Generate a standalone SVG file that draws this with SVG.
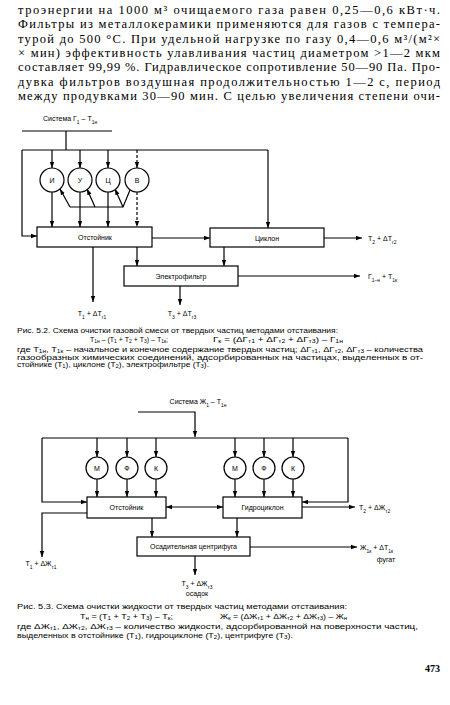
<svg xmlns="http://www.w3.org/2000/svg" width="450" height="705" viewBox="0 0 450 705">
<style>
.ln{stroke:#000;stroke-width:1.2;fill:none}
.ar{marker-end:url(#a)}
.da{stroke-dasharray:3,2}
.box{fill:#fff;stroke:#000;stroke-width:1.2}
.cir{fill:#fff;stroke:#000;stroke-width:1.2}
.t{font-family:"Liberation Sans",Arial,sans-serif;font-size:7px;fill:#000}
.tc{text-anchor:middle}
.body{font-family:"Liberation Serif","Times New Roman",serif;font-size:12.5px;fill:#000}
.cap{font-family:"Liberation Sans",Arial,sans-serif;font-size:7px;fill:#000}
.s{font-size:70%;baseline-shift:sub}
.cs{font-size:70%;baseline-shift:-1.4px}
.p{font-family:"Liberation Serif",serif;font-size:10px;font-weight:bold;fill:#000}
</style>
<defs>
<marker id="a" markerWidth="6" markerHeight="6" refX="6" refY="3" orient="auto" markerUnits="userSpaceOnUse"><path d="M0,0.8 L6,3 L0,5.2z" fill="#000"/></marker>
<marker id="b" markerWidth="6" markerHeight="6" refX="0" refY="3" orient="auto" markerUnits="userSpaceOnUse"><path d="M6,0.8 L0,3 L6,5.2z" fill="#000"/></marker>
</defs>
<rect width="450" height="705" fill="#fff"/>

<g id="paragraph" class="body">
<text x="18" y="14" textLength="422" lengthAdjust="spacing">троэнергии на 1000 м³ очищаемого газа равен 0,25—0,6 кВт·ч.</text>
<text x="18" y="28.3" textLength="422" lengthAdjust="spacing">Фильтры из металлокерамики применяются для газов с темпера-</text>
<text x="18" y="42.6" textLength="422" lengthAdjust="spacing">турой до 500 °С. При удельной нагрузке по газу 0,4—0,6 м³/(м²×</text>
<text x="18" y="56.9" textLength="422" lengthAdjust="spacing">× мин) эффективность улавливания частиц диаметром &gt;1—2 мкм</text>
<text x="18" y="71.2" textLength="422" lengthAdjust="spacing">составляет 99,99 %. Гидравлическое сопротивление 50—90 Па. Про-</text>
<text x="18" y="85.5" textLength="422" lengthAdjust="spacing">дувка фильтров воздушная продолжительностью 1—2 с, период</text>
<text x="18" y="99.8" textLength="422" lengthAdjust="spacing">между продувками 30—90 мин. С целью увеличения степени очи-</text>
</g>

<!-- Figure 5.2 -->
<g id="fig1-connectors">
<path class="ln" d="M22,131 H112 M66,131 V150"/>
<path class="ln" d="M22,150 H268"/>
<path class="ln ar" d="M268,150 V228"/>
<path class="ln ar" d="M22,150 V236 H37"/>
<path class="ln ar" d="M52,150 V168"/>
<path class="ln ar" d="M80,150 V168"/>
<path class="ln ar" d="M108,150 V168"/>
<path class="ln ar da" d="M137,150 V168"/>
<path class="ln ar" d="M52,192 V227"/>
<path class="ln ar" d="M80,192 V227"/>
<path class="ln ar" d="M108,192 V227"/>
<path class="ln ar da" d="M137,192 V227"/>
<path class="ln" d="M70,207 H123 L130,190"/>
<path class="ln ar" d="M70,207 L60,189"/>
<path class="ln ar" d="M95,207 L87,189"/>
<path class="ln ar" d="M123,207 L115,189"/>
<path class="ln ar" d="M152,238 H210"/>
<path class="ln ar" d="M324,238 H362"/>
<path class="ln ar" d="M93,247 V302"/>
<path class="ln ar" d="M137,247 V266"/>
<path class="ln ar" d="M224,247 V266"/>
<path class="ln ar" d="M238,276 H360"/>
<path class="ln ar" d="M180,286 V305"/>
</g>
<g id="fig1-title"><text class="t tc" x="70" y="121">Система Г<tspan class="s">1</tspan> – Т<tspan class="s">1н</tspan></text></g>
<g id="c1"><circle class="cir" cx="52" cy="180" r="12"/><text class="t tc" x="52" y="182.5">И</text></g>
<g id="c2"><circle class="cir" cx="80" cy="180" r="12"/><text class="t tc" x="80" y="182.5">У</text></g>
<g id="c3"><circle class="cir" cx="108" cy="180" r="12"/><text class="t tc" x="108" y="182.5">Ц</text></g>
<g id="c4"><circle class="cir" cx="137" cy="180" r="12"/><text class="t tc" x="137" y="182.5">В</text></g>
<g id="settler1"><rect class="box" x="37" y="227" width="115" height="20"/><text class="t tc" x="95" y="240">Отстойник</text></g>
<g id="cyclone"><rect class="box" x="210" y="228" width="114" height="19"/><text class="t tc" x="267" y="240.5">Циклон</text></g>
<g id="efilter"><rect class="box" x="124" y="266" width="114" height="20"/><text class="t tc" x="181" y="279">Электрофильтр</text></g>
<g id="out1"><text class="t tc" x="92" y="316">Т<tspan class="s">1</tspan> + ΔТ<tspan class="s">г1</tspan></text></g>
<g id="out3"><text class="t tc" x="182" y="316">Т<tspan class="s">3</tspan> + ΔТ<tspan class="s">г3</tspan></text></g>
<g id="out2"><text class="t" x="368" y="241">Т<tspan class="s">2</tspan> + ΔТ<tspan class="s">г2</tspan></text></g>
<g id="outg"><text class="t" x="368" y="279">Г<tspan class="s">1–н</tspan> + Т<tspan class="s">1к</tspan></text></g>

<g id="caption52" class="cap">
<text x="17" y="333" textLength="321" lengthAdjust="spacingAndGlyphs">Рис. 5.2. Схема очистки газовой смеси от твердых частиц методами отстаивания:</text>
<text x="90" y="342" textLength="78" lengthAdjust="spacingAndGlyphs">Т<tspan class="cs">1н</tspan> – (Т<tspan class="cs">1</tspan> + Т<tspan class="cs">2</tspan> + Т<tspan class="cs">3</tspan>) – Т<tspan class="cs">1к</tspan>;</text>
<text x="213" y="342" textLength="130" lengthAdjust="spacingAndGlyphs">Г<tspan class="cs">к</tspan> = (ΔГ<tspan class="cs">т1</tspan> + ΔГ<tspan class="cs">т2</tspan> + ΔГ<tspan class="cs">т3</tspan>) – Г<tspan class="cs">1н</tspan></text>
<text x="17" y="352" textLength="406" lengthAdjust="spacingAndGlyphs">где Т<tspan class="cs">1н</tspan>, Т<tspan class="cs">1к</tspan> – начальное и конечное содержание твердых частиц; ΔГ<tspan class="cs">т1</tspan>, ΔГ<tspan class="cs">т2</tspan>, ΔГ<tspan class="cs">т3</tspan> – количества</text>
<text x="17" y="359.5" textLength="406" lengthAdjust="spacingAndGlyphs">газообразных химических соединений, адсорбированных на частицах, выделенных в от-</text>
<text x="17" y="367" textLength="192" lengthAdjust="spacingAndGlyphs">стойнике (Т<tspan class="cs">1</tspan>), циклоне (Т<tspan class="cs">2</tspan>), электрофильтре (Т<tspan class="cs">3</tspan>).</text>
</g>

<!-- Figure 5.3 -->
<g id="fig2-connectors">
<path class="ln ar" d="M138,412 H195 V437"/>
<path class="ln" d="M42,438 H348"/>
<path class="ln ar" d="M42,438 V502 H87"/>
<path class="ln ar" d="M348,438 V502 H302"/>
<path class="ln ar" d="M97,438 V457"/>
<path class="ln ar" d="M127,438 V457"/>
<path class="ln ar" d="M156,438 V457"/>
<path class="ln ar" d="M235,438 V457"/>
<path class="ln ar" d="M264,438 V457"/>
<path class="ln ar" d="M293,438 V457"/>
<path class="ln ar" d="M97,479 V497"/>
<path class="ln ar" d="M127,479 V497"/>
<path class="ln ar" d="M156,479 V497"/>
<path class="ln ar" d="M235,479 V497"/>
<path class="ln ar" d="M264,479 V497"/>
<path class="ln ar" d="M293,479 V497"/>
<path class="ln ar" d="M166,507 H223" marker-start="url(#b)"/>
<path class="ln ar" d="M302,507 H355"/>
<path class="ln ar" d="M87,513 H42 V557"/>
<path class="ln ar" d="M152,518 V537"/>
<path class="ln ar" d="M237,518 V537"/>
<path class="ln ar" d="M250,547 H357"/>
<path class="ln ar" d="M195,556 V575"/>
</g>
<g id="fig2-title"><text class="t tc" x="198" y="404">Система Ж<tspan class="s">1</tspan> – Т<tspan class="s">1н</tspan></text></g>
<g id="m1"><circle class="cir" cx="97" cy="468" r="11"/><text class="t tc" x="97" y="470.5">М</text></g>
<g id="f1"><circle class="cir" cx="127" cy="468" r="11"/><text class="t tc" x="127" y="470.5">Ф</text></g>
<g id="k1"><circle class="cir" cx="156" cy="468" r="11"/><text class="t tc" x="156" y="470.5">К</text></g>
<g id="m2"><circle class="cir" cx="235" cy="468" r="11"/><text class="t tc" x="235" y="470.5">М</text></g>
<g id="f2"><circle class="cir" cx="264" cy="468" r="11"/><text class="t tc" x="264" y="470.5">Ф</text></g>
<g id="k2"><circle class="cir" cx="293" cy="468" r="11"/><text class="t tc" x="293" y="470.5">К</text></g>
<g id="settler2"><rect class="box" x="87" y="497" width="79" height="21"/><text class="t tc" x="126.5" y="510">Отстойник</text></g>
<g id="hydro"><rect class="box" x="223" y="497" width="79" height="21"/><text class="t tc" x="262.5" y="510">Гидроциклон</text></g>
<g id="centrifuge"><rect class="box" x="137" y="537" width="113" height="19"/><text class="t tc" x="193.5" y="549">Осадительная центрифуга</text></g>
<g id="o21"><text class="t tc" x="41" y="566">Т<tspan class="s">1</tspan> + ΔЖ<tspan class="s">т1</tspan></text></g>
<g id="o22"><text class="t" x="359" y="510">Т<tspan class="s">2</tspan> + ΔЖ<tspan class="s">т2</tspan></text></g>
<g id="o2f"><text class="t" x="360" y="550">Ж<tspan class="s">1к</tspan> + ΔТ<tspan class="s">1к</tspan></text><text class="t tc" x="386" y="562">фугат</text></g>
<g id="o23"><text class="t tc" x="197" y="586">Т<tspan class="s">3</tspan> + ΔЖ<tspan class="s">т3</tspan></text><text class="t tc" x="197" y="596">осадок</text></g>

<g id="caption53" class="cap">
<text x="17" y="609" textLength="330" lengthAdjust="spacingAndGlyphs">Рис. 5.3. Схема очистки жидкости от твердых частиц методами отстаивания:</text>
<text x="80" y="619" textLength="93" lengthAdjust="spacingAndGlyphs">Т<tspan class="cs">н</tspan> = (Т<tspan class="cs">1</tspan> + Т<tspan class="cs">2</tspan> + Т<tspan class="cs">3</tspan>) – Т<tspan class="cs">к</tspan>;</text>
<text x="220" y="619" textLength="127" lengthAdjust="spacingAndGlyphs">Ж<tspan class="cs">к</tspan> = (ΔЖ<tspan class="cs">т1</tspan> + ΔЖ<tspan class="cs">т2</tspan> + ΔЖ<tspan class="cs">т3</tspan>) – Ж<tspan class="cs">н</tspan></text>
<text x="17" y="629" textLength="401" lengthAdjust="spacingAndGlyphs">где ΔЖ<tspan class="cs">т1</tspan>, ΔЖ<tspan class="cs">т2</tspan>, ΔЖ<tspan class="cs">т3</tspan> – количество жидкости, адсорбированной на поверхности частиц,</text>
<text x="17" y="637.5" textLength="276" lengthAdjust="spacingAndGlyphs">выделенных в отстойнике (Т<tspan class="cs">1</tspan>), гидроциклоне (Т<tspan class="cs">2</tspan>), центрифуге (Т<tspan class="cs">3</tspan>).</text>
</g>
<g id="pagenum"><text class="p" x="440" y="672" text-anchor="end">473</text></g>
</svg>
